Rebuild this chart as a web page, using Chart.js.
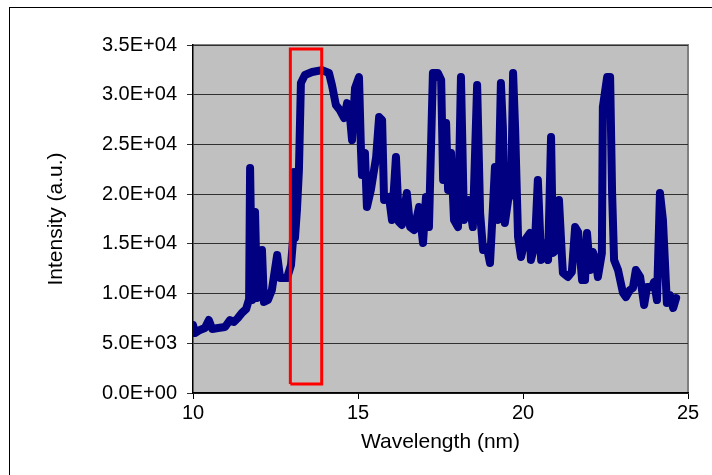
<!DOCTYPE html>
<html>
<head>
<meta charset="utf-8">
<script src="https://cdn.jsdelivr.net/npm/chart.js@4"></script>
<style>
  body { margin: 0; background: #fff; }
  #wrap { width: 712px; height: 475px; }
</style>
</head>
<body>
<div id="wrap"><canvas id="chart-spectrum" width="712" height="475"></canvas></div>
<script>
// Spectrum
var wavelength = [
    10.00, 10.06, 10.21, 10.36, 10.48, 10.58, 10.76, 10.97, 11.12, 11.24,
    11.36, 11.48, 11.61, 11.70, 11.73, 11.79, 11.88, 11.94, 12.00, 12.09,
    12.15, 12.27, 12.39, 12.55, 12.64, 12.85, 12.97, 13.03, 13.06, 13.09,
    13.15, 13.21, 13.27, 13.39, 13.61, 13.91, 14.12, 14.21, 14.33, 14.45,
    14.58, 14.67, 14.76, 14.82, 14.91, 15.03, 15.09, 15.12, 15.21, 15.27,
    15.39, 15.55, 15.64, 15.73, 15.79, 15.94, 16.03, 16.15, 16.24, 16.33,
    16.48, 16.58, 16.70, 16.85, 16.97, 17.06, 17.15, 17.27, 17.42, 17.52,
    17.58, 17.67, 17.73, 17.82, 17.91, 18.03, 18.12, 18.21, 18.36, 18.48,
    18.61, 18.70, 18.79, 18.91, 19.00, 19.09, 19.15, 19.24, 19.33, 19.39,
    19.45, 19.55, 19.64, 19.70, 19.76, 19.85, 19.94, 20.06, 20.21, 20.24,
    20.36, 20.45, 20.55, 20.67, 20.76, 20.85, 20.91, 21.00, 21.09, 21.18,
    21.21, 21.36, 21.48, 21.58, 21.67, 21.79, 21.88, 21.94, 22.03, 22.12,
    22.21, 22.27, 22.39, 22.42, 22.55, 22.64, 22.70, 22.76, 22.88, 23.03,
    23.12, 23.24, 23.33, 23.42, 23.55, 23.67, 23.76, 23.91, 23.97, 24.06,
    24.15, 24.24, 24.36, 24.45, 24.55, 24.64
];
var intensity = [
    6840, 6030, 6340, 6540, 7340, 6440, 6540, 6640, 7340, 7140,
    7540, 8050, 8450, 9450, 22630, 9350, 18200, 9550, 10360, 14380,
    9150, 9350, 10360, 13880, 11570, 11570, 12870, 15390, 22230, 15590,
    18400, 22430, 31180, 31980, 32280, 32480, 32180, 30980, 28960, 28460,
    27660, 29160, 27660, 25440, 30670, 31780, 24440, 21920, 24140, 18710,
    20420, 23730, 27760, 27460, 19410, 19710, 17400, 23730, 17200, 16900,
    20110, 16690, 16390, 18710, 15090, 19710, 16690, 32180, 32180, 31480,
    21420, 27150, 20420, 24140, 17400, 16690, 31780, 17400, 19410, 16690,
    30980, 18100, 14380, 14580, 13070, 18710, 22730, 17400, 31180, 26750,
    17100, 19410, 20110, 32180, 26750, 15690, 13680, 15390, 16090, 13380,
    14880, 21420, 13380, 15090, 13380, 25750, 14080, 14380, 19410, 13680,
    12070, 11670, 12170, 16690, 16190, 11360, 11360, 16090, 12370, 14180,
    13170, 11670, 14080, 28760, 31780, 31780, 20110, 13380, 12370, 10060,
    9650, 10360, 10560, 12370, 11670, 8850, 10660, 10660, 11160, 9350,
    20110, 17400, 9050, 9860, 8550, 9550
];

// Highlight box corners
var boxX = [12.95, 13.90, 13.90, 12.95, 12.95];
var boxY = [900, 900, 34600, 34600, 900];

var xTicks = [10, 15, 20, 25];
var yTicks = [0, 5000, 10000, 15000, 20000, 25000, 30000, 35000];

var FONT = 'Liberation Sans, Arial, sans-serif';

function sci(v) {
    if (v === 0) return '0.0E+00';
    var e = Math.floor(Math.log10(v));
    var m = (v / Math.pow(10, e)).toFixed(1);
    return m + 'E+' + (e < 10 ? '0' + e : e);
}

// Grey plot background, plot frame and outer chart frame
var framePlugin = {
    id: 'frames',
    beforeDraw: function (chart) {
        var ctx = chart.ctx, a = chart.chartArea;
        ctx.save();
        ctx.fillStyle = '#c0c0c0';
        ctx.fillRect(a.left, a.top, a.right - a.left, a.bottom - a.top);
        ctx.strokeStyle = '#808080';
        ctx.lineWidth = 2;
        ctx.beginPath();
        ctx.moveTo(a.left, a.top);
        ctx.lineTo(a.right, a.top);
        ctx.lineTo(a.right, a.bottom);
        ctx.stroke();
        ctx.strokeStyle = '#000';
        ctx.lineWidth = 1;
        ctx.strokeRect(9.5, 7.5, 760, 520);
        ctx.restore();
    }
};

new Chart(document.getElementById('chart-spectrum'), {
    type: 'line',
    data: {
        datasets: [{
            label: 'box',
            data: boxX.map((x, i) => ({x: x, y: boxY[i]})),
            borderColor: '#ff0000',
            borderWidth: 3,
            pointRadius: 0,
            fill: false,
            tension: 0,
        }, {
            label: 'Intensity',
            data: wavelength.map((x, i) => ({x: x, y: intensity[i]})),
            borderColor: '#000080',
            borderWidth: 8,
            borderJoinStyle: 'round',
            borderCapStyle: 'round',
            pointRadius: 0,
            fill: false,
            tension: 0,
        }]
    },
    options: {
        responsive: false,
        animation: false,
        layout: {padding: {left: 0, top: 45, right: 24, bottom: 0}},
        plugins: {
            legend: {display: false},
            tooltip: {enabled: false},
        },
        scales: {
            x: {
                type: 'linear',
                min: 10,
                max: 25,
                afterFit: function (s) { s.height = 82; },
                afterBuildTicks: function (s) { s.ticks = xTicks.map(v => ({value: v})); },
                grid: {display: true, drawOnChartArea: false, color: '#000', tickLength: 6},
                border: {display: true, color: '#000', width: 1.5},
                ticks: {color: '#000', padding: 2, maxRotation: 0, font: {family: FONT, size: 20}},
                title: {display: true, text: 'Wavelength (nm)', color: '#000',
                        padding: {top: 0, bottom: 20}, font: {family: FONT, size: 21}},
            },
            y: {
                min: 0,
                max: 35000,
                afterFit: function (s) { s.width = 193; },
                afterBuildTicks: function (s) { s.ticks = yTicks.map(v => ({value: v})); },
                grid: {color: '#303030', lineWidth: 1, tickLength: 6},
                border: {display: true, color: '#000', width: 1.5},
                ticks: {color: '#000', padding: 10, font: {family: FONT, size: 20}, callback: v => sci(v)},
                title: {display: true, text: 'Intensity (a.u.)', color: '#000',
                        padding: {top: 44, bottom: 0}, font: {family: FONT, size: 21}},
            }
        }
    },
    plugins: [framePlugin]
});
</script>
</body>
</html>
